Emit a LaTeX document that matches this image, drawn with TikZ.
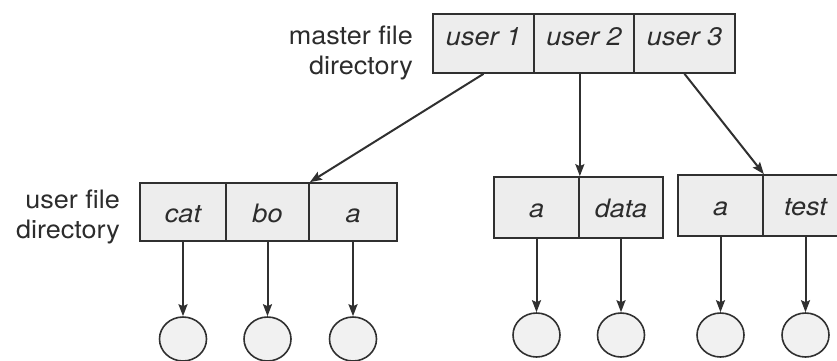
\documentclass[tikz,border=0pt]{standalone}
\usepackage{fontspec}
\setmainfont{TeX Gyre Heros}
\usepackage{graphicx}
\usetikzlibrary{arrows.meta,shapes.geometric}
\definecolor{ink}{HTML}{303030}
\definecolor{cellgray}{HTML}{EDEDED}
\definecolor{leafgray}{HTML}{F1F1F1}
\definecolor{txt}{HTML}{2C2C2C}
% slightly condensed lettering height
\newcommand\vsq[1]{\scalebox{1}[0.94]{#1}}
\begin{document}
\begin{tikzpicture}[x=1pt,y=-1pt,
  cellbase/.style={draw=ink, line width=1.7pt, fill=cellgray, inner sep=0pt,
    font=\fontsize{27}{27}\selectfont\itshape, text=txt},
  mcell/.style={cellbase, minimum height=59pt, text height=16pt, text depth=13pt},
  ucell/.style={cellbase, minimum height=#1, text height=20pt, text depth=0pt},
  leaf/.style={ellipse, draw=ink, line width=1.6pt, fill=leafgray, inner sep=0pt,
    minimum width=47pt, minimum height=44pt},
  arr/.style={draw=ink, line width=2pt, -{Stealth[length=12pt,width=9pt,inset=2pt]}},
  lbl/.style={font=\fontsize{27}{32}\selectfont, text=txt, inner sep=0pt}]
\useasboundingbox (0,0) rectangle (837,360);
\clip (0,0) rectangle (837,360);

% master file directory
\node[mcell, minimum width=101pt] (m1) at (483.5,43.5) {\vsq{user 1}};
\node[mcell, minimum width=100pt] (m2) at (584,43.5) {\vsq{user 2}};
\node[mcell, minimum width=101pt] (m3) at (684.5,43.5) {\vsq{user 3}};
\node[lbl, anchor=base east] (mlab) at (413,44)
  {\vsq{\begin{tabular}[t]{@{}r@{}}master file\\directory\end{tabular}}};

% user file directories
\node[ucell=58pt, minimum width=86pt] (c1) at (183,212) {\vsq{cat}};
\node[ucell=58pt, minimum width=83pt] (c2) at (267.5,212) {\vsq{bo}};
\node[ucell=58pt, minimum width=88pt] (c3) at (353,212) {\vsq{a}};

\node[ucell=61pt, minimum width=85pt] (d1) at (536.5,207.5) {\vsq{a}};
\node[ucell=61pt, minimum width=84pt] (d2) at (621,207.5) {\vsq{data}};

\node[ucell=61pt, minimum width=85pt] (e1) at (720.5,205.5) {\vsq{a}};
\node[ucell=61pt, minimum width=85pt] (e2) at (805.5,205.5) {\vsq{test}};

\node[lbl, anchor=base east] (ulab) at (120,208)
  {\vsq{\begin{tabular}[t]{@{}r@{}}user file\\directory\end{tabular}}};

% files
\node[leaf] (f1) at (183,339) {};
\node[leaf] (f2) at (267.5,339) {};
\node[leaf] (f3) at (353,339) {};
\node[leaf] (g1) at (536.5,335) {};
\node[leaf] (g2) at (621,335) {};
\node[leaf] (h1) at (720.5,335) {};
\node[leaf] (h2) at (805.5,335) {};

% master entries to user directories
\draw[arr] (m1.south) -- (c2.north east);
\draw[arr] (m2.south -| d1.north east) -- (d1.north east);
\draw[arr] (m3.south) -- (e1.north east);

% directory entries to files
\draw[arr] (c1.south) -- (f1.north);
\draw[arr] (c2.south) -- (f2.north);
\draw[arr] (c3.south) -- (f3.north);
\draw[arr] (d1.south) -- (g1.north);
\draw[arr] (d2.south) -- (g2.north);
\draw[arr] (e1.south) -- (h1.north);
\draw[arr] (e2.south) -- (h2.north);
\end{tikzpicture}
\end{document}
